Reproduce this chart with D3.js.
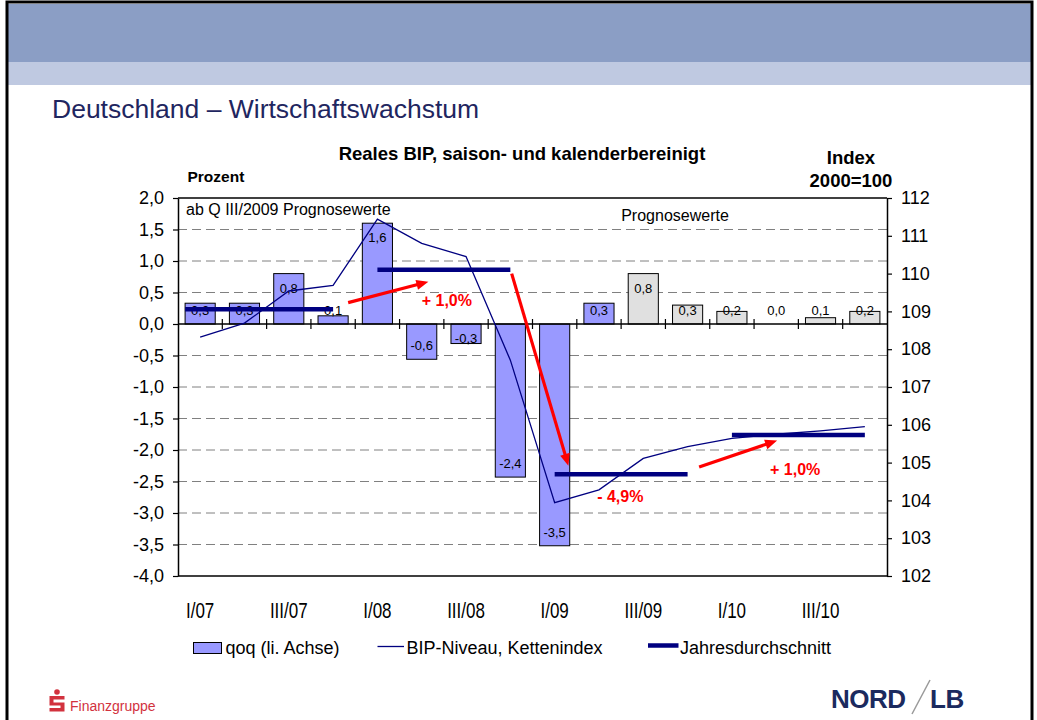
<!DOCTYPE html>
<html><head><meta charset="utf-8">
<script src="https://cdn.jsdelivr.net/npm/d3@7"></script>
<style>body{margin:0;background:#fff}svg{display:block;font-family:"Liberation Sans",Arial,sans-serif}</style>
</head><body><svg id="c" width="1037" height="720"></svg>
<script>
// ---------- data ----------
const quarters = ["I/07","II/07","III/07","IV/07","I/08","II/08","III/08","IV/08","I/09","II/09","III/09","IV/09","I/10","II/10","III/10","IV/10"];
const qoq = [0.33,0.33,0.80,0.13,1.60,-0.56,-0.31,-2.43,-3.52,0.33,0.80,0.30,0.20,0.00,0.10,0.20];
const bipIndex = [108.32,108.69,109.54,109.69,111.44,110.80,110.45,107.71,103.94,104.28,105.11,105.42,105.64,105.75,105.84,105.95];
const years = ["2007","2008","2009","2010"];
const yearAvg = [109.06,110.10,104.69,105.73];
const yearFrom = [-0.34,4,8,12];
const yearTo = [3,7,11,15];
const forecastFrom = "III/09";
const leftTicks = [2.0,1.5,1.0,0.5,0.0,-0.5,-1.0,-1.5,-2.0,-2.5,-3.0,-3.5,-4.0];
const rightTicks = [102,103,104,105,106,107,108,109,110,111,112];
const xTickLabels = ["I/07","III/07","I/08","III/08","I/09","III/09","I/10","III/10"];
const changeLabels = ["+ 1,0%","- 4,9%","+ 1,0%"];
const arrowFrom = [[3.34,0.34],[7.03,0.80],[11.26,-2.27]];
const arrowTo = [[5.15,0.67],[8.31,-2.25],[13.02,-1.85]];
const labelAt = [[5.0,0.29],[8.96,-2.82],[12.86,-2.40]];
const legendLabels = ["qoq (li. Achse)","BIP-Niveau, Kettenindex","Jahresdurchschnitt"];

// ---------- setup ----------
const svg = d3.select("#c");
const L = 178, R = 887, T = 198, B = 576;
const NAVY = "#000080", BLUE = "#9999FF", GRAY = "#E0E0E0", RED = "#FF0000";
const loc = d3.formatLocale({decimal:",", thousands:".", grouping:[3], currency:["","€"], minus:"-"});
const f1 = loc.format(".1f");

const x = d3.scaleBand().domain(quarters).range([L,R]).paddingInner(0.32).paddingOuter(0.16);
const xi = d3.scaleLinear().domain([-0.5,15.5]).range([L,R]);
const yL = d3.scaleLinear().domain([-4,2]).range([B,T]);
const yR = d3.scaleLinear().domain([102,112]).range([B,T]);

// slide frame & header
svg.append("rect").attr("x",8).attr("y",4).attr("width",1023).attr("height",58).attr("fill","#8B9EC5");
svg.append("rect").attr("x",8).attr("y",62).attr("width",1023).attr("height",23).attr("fill","#BFC9E1");
svg.append("rect").attr("x",7).attr("y",2).attr("width",1025).attr("height",760).attr("fill","none").attr("stroke","#000").attr("stroke-width",3);
svg.append("text").attr("x",52).attr("y",118).attr("font-size",26.5).attr("fill","#1F2660").text("Deutschland – Wirtschaftswachstum");

// chart titles
svg.append("text").attr("x",522).attr("y",160).attr("text-anchor","middle").attr("font-weight","bold").attr("font-size",18.5).text("Reales BIP, saison- und kalenderbereinigt");
svg.append("text").attr("x",187.5).attr("y",181.5).attr("font-weight","bold").attr("font-size",15.5).text("Prozent");
svg.append("text").attr("x",851).attr("y",164).attr("text-anchor","middle").attr("font-weight","bold").attr("font-size",18.5).text("Index");
svg.append("text").attr("x",851).attr("y",187).attr("text-anchor","middle").attr("font-weight","bold").attr("font-size",18.5).text("2000=100");

// gridlines
svg.append("g").selectAll("line").data(leftTicks.filter(d => d !== 0 && d > -4 && d < 2)).join("line")
  .attr("x1",L).attr("x2",R).attr("y1",d => yL(d)).attr("y2",d => yL(d))
  .attr("stroke","#808080").attr("stroke-width",1).attr("stroke-dasharray","9,5");

// bars
const fIdx = quarters.indexOf(forecastFrom);
svg.append("g").selectAll("rect").data(qoq).join("rect")
  .attr("x",(d,i) => x(quarters[i])).attr("width",x.bandwidth())
  .attr("y",d => yL(Math.max(0,d))).attr("height",d => Math.abs(yL(d)-yL(0)))
  .attr("fill",(d,i) => i >= fIdx ? GRAY : BLUE).attr("stroke","#000").attr("stroke-width",1);

// zero line with cross ticks
svg.append("line").attr("x1",L).attr("x2",R).attr("y1",yL(0)).attr("y2",yL(0)).attr("stroke","#000").attr("stroke-width",1.5);
svg.append("g").selectAll("line").data(d3.range(1,16)).join("line")
  .attr("x1",i => xi(i-0.5)).attr("x2",i => xi(i-0.5)).attr("y1",yL(0)-5).attr("y2",yL(0)+5)
  .attr("stroke","#000").attr("stroke-width",1.2);

// bar labels
svg.append("g").selectAll("text").data(qoq).join("text")
  .attr("x",(d,i) => x(quarters[i]) + x.bandwidth()/2)
  .attr("y",d => d >= 0 ? Math.min(yL(d)+19, yL(0)-9) : Math.max(yL(d)-9, yL(0)+19))
  .attr("text-anchor","middle").attr("font-size",13).attr("fill","#000")
  .text(d => f1(d));

// BIP line
svg.append("path").datum(bipIndex)
  .attr("d", d3.line().x((d,i) => xi(i)).y(d => yR(d)))
  .attr("fill","none").attr("stroke",NAVY).attr("stroke-width",1.3);

// annual averages
svg.append("g").selectAll("line").data(yearAvg).join("line")
  .attr("x1",(d,i) => xi(yearFrom[i])).attr("x2",(d,i) => xi(yearTo[i]))
  .attr("y1",d => yR(d)).attr("y2",d => yR(d))
  .attr("stroke",NAVY).attr("stroke-width",4.5);

// arrows
const arrows = svg.append("g");
arrowFrom.forEach((a,i) => {
  const x1 = xi(a[0]), y1 = yL(a[1]), x2 = xi(arrowTo[i][0]), y2 = yL(arrowTo[i][1]);
  const ang = Math.atan2(y2-y1, x2-x1), hl = 12, hw = 5;
  const bx = x2 - hl*Math.cos(ang), by = y2 - hl*Math.sin(ang);
  arrows.append("line").attr("x1",x1).attr("y1",y1).attr("x2",bx+2*Math.cos(ang)).attr("y2",by+2*Math.sin(ang))
    .attr("stroke",RED).attr("stroke-width",3.2);
  const px = -Math.sin(ang), py = Math.cos(ang);
  arrows.append("path").attr("d",`M${x2},${y2}L${bx+hw*px},${by+hw*py}L${bx-hw*px},${by-hw*py}Z`).attr("fill",RED);
  arrows.append("text").attr("x",xi(labelAt[i][0])).attr("y",yL(labelAt[i][1]))
    .attr("font-size",16).attr("font-weight","bold").attr("fill",RED).text(changeLabels[i]);
});

// notes in plot
svg.append("text").attr("x",L+8).attr("y",T+17).attr("font-size",16).text("ab Q III/2009 Prognosewerte");
svg.append("text").attr("x",675).attr("y",T+23).attr("text-anchor","middle").attr("font-size",16).text("Prognosewerte");

// frame top/bottom
svg.append("line").attr("x1",L).attr("x2",R).attr("y1",T).attr("y2",T).attr("stroke","#000").attr("stroke-width",1.5);
svg.append("line").attr("x1",L).attr("x2",R).attr("y1",B).attr("y2",B).attr("stroke","#000").attr("stroke-width",1.5);

// axes
const gl = svg.append("g").attr("transform",`translate(${L},0)`)
  .call(d3.axisLeft(yL).tickValues(leftTicks).tickSize(5).tickSizeOuter(0).tickPadding(9).tickFormat(f1));
const gr = svg.append("g").attr("transform",`translate(${R},0)`)
  .call(d3.axisRight(yR).tickValues(rightTicks).tickSize(5).tickSizeOuter(0).tickPadding(9).tickFormat(d3.format("d")));
[gl,gr].forEach(g => {
  g.select(".domain").attr("stroke","#000").attr("stroke-width",1.5);
  g.selectAll(".tick line").attr("stroke","#000").attr("stroke-width",1.2);
  g.selectAll(".tick text").attr("font-size",18).attr("fill","#000").attr("font-family","Liberation Sans, Arial, sans-serif");
});

// x labels (slightly tall glyphs as in the reference)
svg.append("g").selectAll("text").data(xTickLabels).join("text")
  .attr("transform",d => `translate(${x(d) + x.bandwidth()/2},618) scale(1,1.25)`)
  .attr("text-anchor","middle").attr("font-size",17).text(d => d);

// legend
const lg = svg.append("g").attr("font-size",18);
lg.append("rect").attr("x",193.5).attr("y",642.5).attr("width",28).attr("height",11).attr("fill",BLUE).attr("stroke","#000");
lg.append("text").attr("x",225.5).attr("y",653.5).text(legendLabels[0]);
lg.append("line").attr("x1",377.5).attr("x2",404).attr("y1",646.5).attr("y2",646.5).attr("stroke",NAVY).attr("stroke-width",1.3);
lg.append("text").attr("x",406.5).attr("y",653.5).text(legendLabels[1]);
lg.append("line").attr("x1",648).attr("x2",678.5).attr("y1",645.5).attr("y2",645.5).attr("stroke",NAVY).attr("stroke-width",4.5);
lg.append("text").attr("x",680).attr("y",653.5).text(legendLabels[2]);

// logos
const SRED = "#D2323E";
svg.append("circle").attr("cx",57).attr("cy",692).attr("r",2.8).attr("fill",SRED);
svg.append("path").attr("d","M49.5,696H64.5V699.5H53.5V702.5H64.5V711.5H49.5V708H60.5V705.5H49.5Z").attr("fill",SRED);
svg.append("text").attr("x",70).attr("y",711).attr("font-size",14).attr("fill",SRED).text("Finanzgruppe");
svg.append("text").attr("x",831).attr("y",708).attr("font-size",26).attr("font-weight","bold").attr("fill","#1B2A5E").attr("letter-spacing",-0.5).text("NORD");
svg.append("line").attr("x1",912).attr("y1",714).attr("x2",930).attr("y2",680).attr("stroke","#9a9a9a").attr("stroke-width",1.5);
svg.append("text").attr("x",930).attr("y",708).attr("font-size",26).attr("font-weight","bold").attr("fill","#1B2A5E").attr("letter-spacing",-0.5).text("LB");
</script></body></html>
